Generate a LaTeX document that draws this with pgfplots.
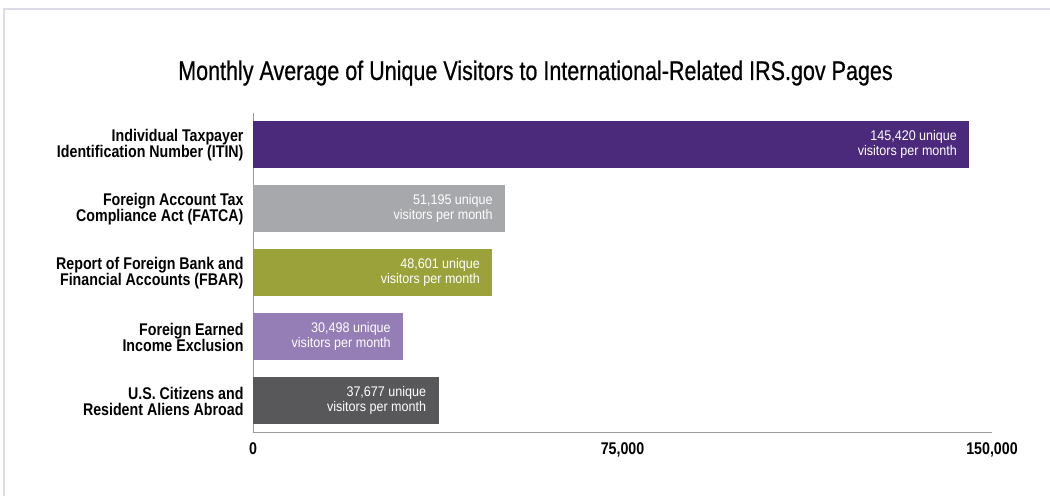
\documentclass[border=0pt]{standalone}
\usepackage{fontspec}
\setmainfont{Liberation Sans}[FakeStretch=0.84]
\newfontfamily\titlefont{Liberation Sans}[FakeStretch=0.80, FakeBold=0.6]
\newfontfamily\valfont{Liberation Sans}[FakeStretch=0.9]
\usepackage{pgfplots}
\pgfplotsset{compat=1.18}
\definecolor{cITIN}{HTML}{4B2A7B}
\definecolor{cFATCA}{HTML}{A7A8AB}
\definecolor{cFBAR}{HTML}{9BA23A}
\definecolor{cFEIE}{HTML}{957DB6}
\definecolor{cUS}{HTML}{58585A}
\definecolor{framec}{HTML}{DCDCE8}
\definecolor{axisgray}{HTML}{9A9A9A}
\begin{document}
\begin{tikzpicture}[x=1bp,y=1bp]
\path[use as bounding box] (0,0) rectangle (1050,496);
\draw[color=framec, line width=1.5bp] (4,0) -- (4,487) -- (1050,487);
\node[font=\titlefont\fontsize{27}{30}\selectfont, anchor=base] at (535.5,416) {Monthly Average of Unique Visitors to International-Related IRS.gov Pages};
\begin{axis}[
  at={(253bp,63bp)}, anchor=south west, scale only axis,
  width=739bp, height=320bp,
  xmin=0, xmax=150000, ymin=-0.5, ymax=4.5,
  xbar, bar width=47bp, bar shift=0pt,
  axis x line*=bottom, axis y line*=left,
  axis line style={color=axisgray, line width=1bp, -},
  scaled x ticks=false,
  xtick={0,75000,150000}, xticklabels={0,{75,000},{150,000}},
  ytick={0,1,2,3,4},
  yticklabels={{U.S. Citizens and\\Resident Aliens Abroad},{Foreign Earned\\Income Exclusion},{Report of Foreign Bank and\\Financial Accounts (FBAR)},{Foreign Account Tax\\Compliance Act (FATCA)},{Individual Taxpayer\\Identification Number (ITIN)}},
  major tick length=0pt,
  yticklabel style={align=right, font=\bfseries\fontsize{17}{16}\selectfont, xshift=-6bp},
  xticklabel style={font=\bfseries\fontsize{17}{16}\selectfont, yshift=-6bp},
  point meta=explicit symbolic,
  nodes near coords={\pgfplotspointmeta\ unique\\visitors per month},
  every node near coord/.append style={anchor=east, xshift=-9bp, yshift=1bp, align=right, text=white, font=\valfont\fontsize{14}{15}\selectfont},
  clip=false,
]
\addplot[fill=cITIN, draw=none] coordinates {(145420,4) [145,420]};
\addplot[fill=cFATCA, draw=none] coordinates {(51195,3) [51,195]};
\addplot[fill=cFBAR, draw=none] coordinates {(48601,2) [48,601]};
\addplot[fill=cFEIE, draw=none] coordinates {(30498,1) [30,498]};
\addplot[fill=cUS, draw=none] coordinates {(37677,0) [37,677]};
\end{axis}
\end{tikzpicture}
\end{document}
